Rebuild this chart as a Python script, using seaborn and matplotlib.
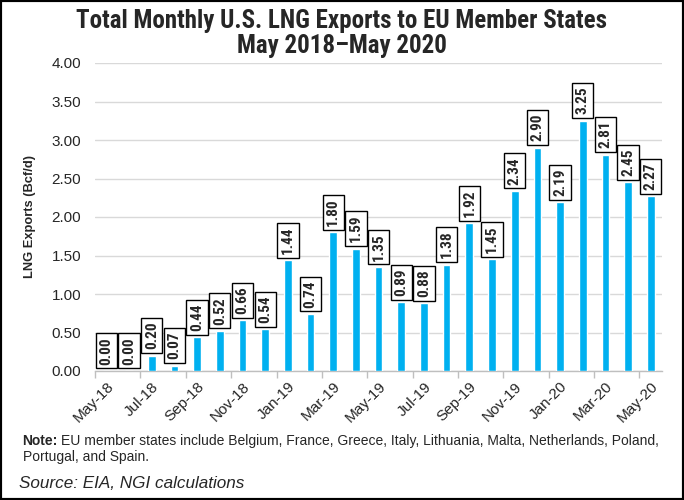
import matplotlib
matplotlib.use("Agg")
import matplotlib.pyplot as plt
import seaborn as sns
import pandas as pd
from matplotlib.patches import Rectangle
from matplotlib.ticker import FixedLocator

months = ["May-18", "Jun-18", "Jul-18", "Aug-18", "Sep-18", "Oct-18", "Nov-18", "Dec-18",
          "Jan-19", "Feb-19", "Mar-19", "Apr-19", "May-19", "Jun-19", "Jul-19", "Aug-19",
          "Sep-19", "Oct-19", "Nov-19", "Dec-19", "Jan-20", "Feb-20", "Mar-20", "Apr-20", "May-20"]
exports = [0.00, 0.00, 0.20, 0.07, 0.44, 0.52, 0.66, 0.54, 1.44, 0.74, 1.80, 1.59, 1.35,
           0.89, 0.88, 1.38, 1.92, 1.45, 2.34, 2.90, 2.19, 3.25, 2.81, 2.45, 2.27]

df = pd.DataFrame({"month": months, "exports": exports})

sns.set_theme(style="white")
plt.rcParams['font.family'] = ['Liberation Sans', 'DejaVu Sans']
NARROW = ['Roboto Condensed', 'PT Sans Narrow', 'Liberation Sans', 'DejaVu Sans']

fig = plt.figure(figsize=(6.84, 5.0), dpi=100)
ax = fig.add_axes([0.139, 0.258, 0.829, 0.616])

sns.barplot(data=df, x="month", y="exports", color="#00B0F0", saturation=1,
            width=0.34, ax=ax, zorder=3)

ax.set_ylim(0, 4)
ax.set_xlim(-0.5, len(months) - 0.5)
ax.set_yticks([i * 0.5 for i in range(9)])
ax.set_yticklabels([f"{i * 0.5:.2f}" for i in range(9)], fontsize=11)
ax.yaxis.grid(True, color="#d9d9d9", linewidth=1, zorder=0)
ax.set_axisbelow(True)

for s in ["top", "right", "left"]:
    ax.spines[s].set_visible(False)
ax.spines["bottom"].set_color("#bfbfbf")
ax.spines["bottom"].set_linewidth(1)

ax.set_xticks(list(range(0, len(months), 2)))
ax.set_xticklabels(months[::2], rotation=45, ha="right", rotation_mode="anchor", fontsize=11)
ax.tick_params(axis="x", which="major", length=0, pad=6)
ax.xaxis.set_minor_locator(FixedLocator([i - 0.5 for i in range(0, len(months), 2)]))
ax.tick_params(axis="x", which="minor", length=5, color="#bfbfbf", width=1, bottom=True)
ax.tick_params(axis="y", length=0, pad=10)
ax.set_xlabel("")
ax.set_ylabel("LNG Exports (Bcf/d)", fontsize=9.3, fontweight="bold", labelpad=11)

for i, v in enumerate(exports):
    ax.annotate(f"{v:.2f}", xy=(i, v), xytext=(0, 4.5), textcoords="offset points",
                ha="center", va="bottom", rotation=90, fontsize=11,
                fontweight="bold", family=NARROW,
                bbox=dict(boxstyle="square,pad=0.24", fc="white", ec="black", lw=1),
                zorder=5)

fig.text(0.5, 0.958, "Total Monthly U.S. LNG Exports to EU Member States",
         ha="center", va="center", fontsize=18, fontweight="bold", family=NARROW)
fig.text(0.5, 0.908, "May 2018\u2013May 2020",
         ha="center", va="center", fontsize=18, fontweight="bold", family=NARROW)

fig.text(0.033, 0.118, "Note:", fontsize=10, fontweight="bold", va="center")
fig.text(0.089, 0.118, "EU member states include Belgium, France, Greece, Italy, Lithuania, Malta, Netherlands, Poland,",
         fontsize=10, va="center")
fig.text(0.033, 0.085, "Portugal, and Spain.", fontsize=10, va="center")
fig.text(0.028, 0.034, "Source: EIA, NGI calculations", fontsize=12.3, style="italic", va="center")

fig.patches.append(Rectangle((0, 0), 1, 1, transform=fig.transFigure, fill=False,
                             ec="black", lw=3, zorder=10))

fig.savefig("out.png", dpi=100)
